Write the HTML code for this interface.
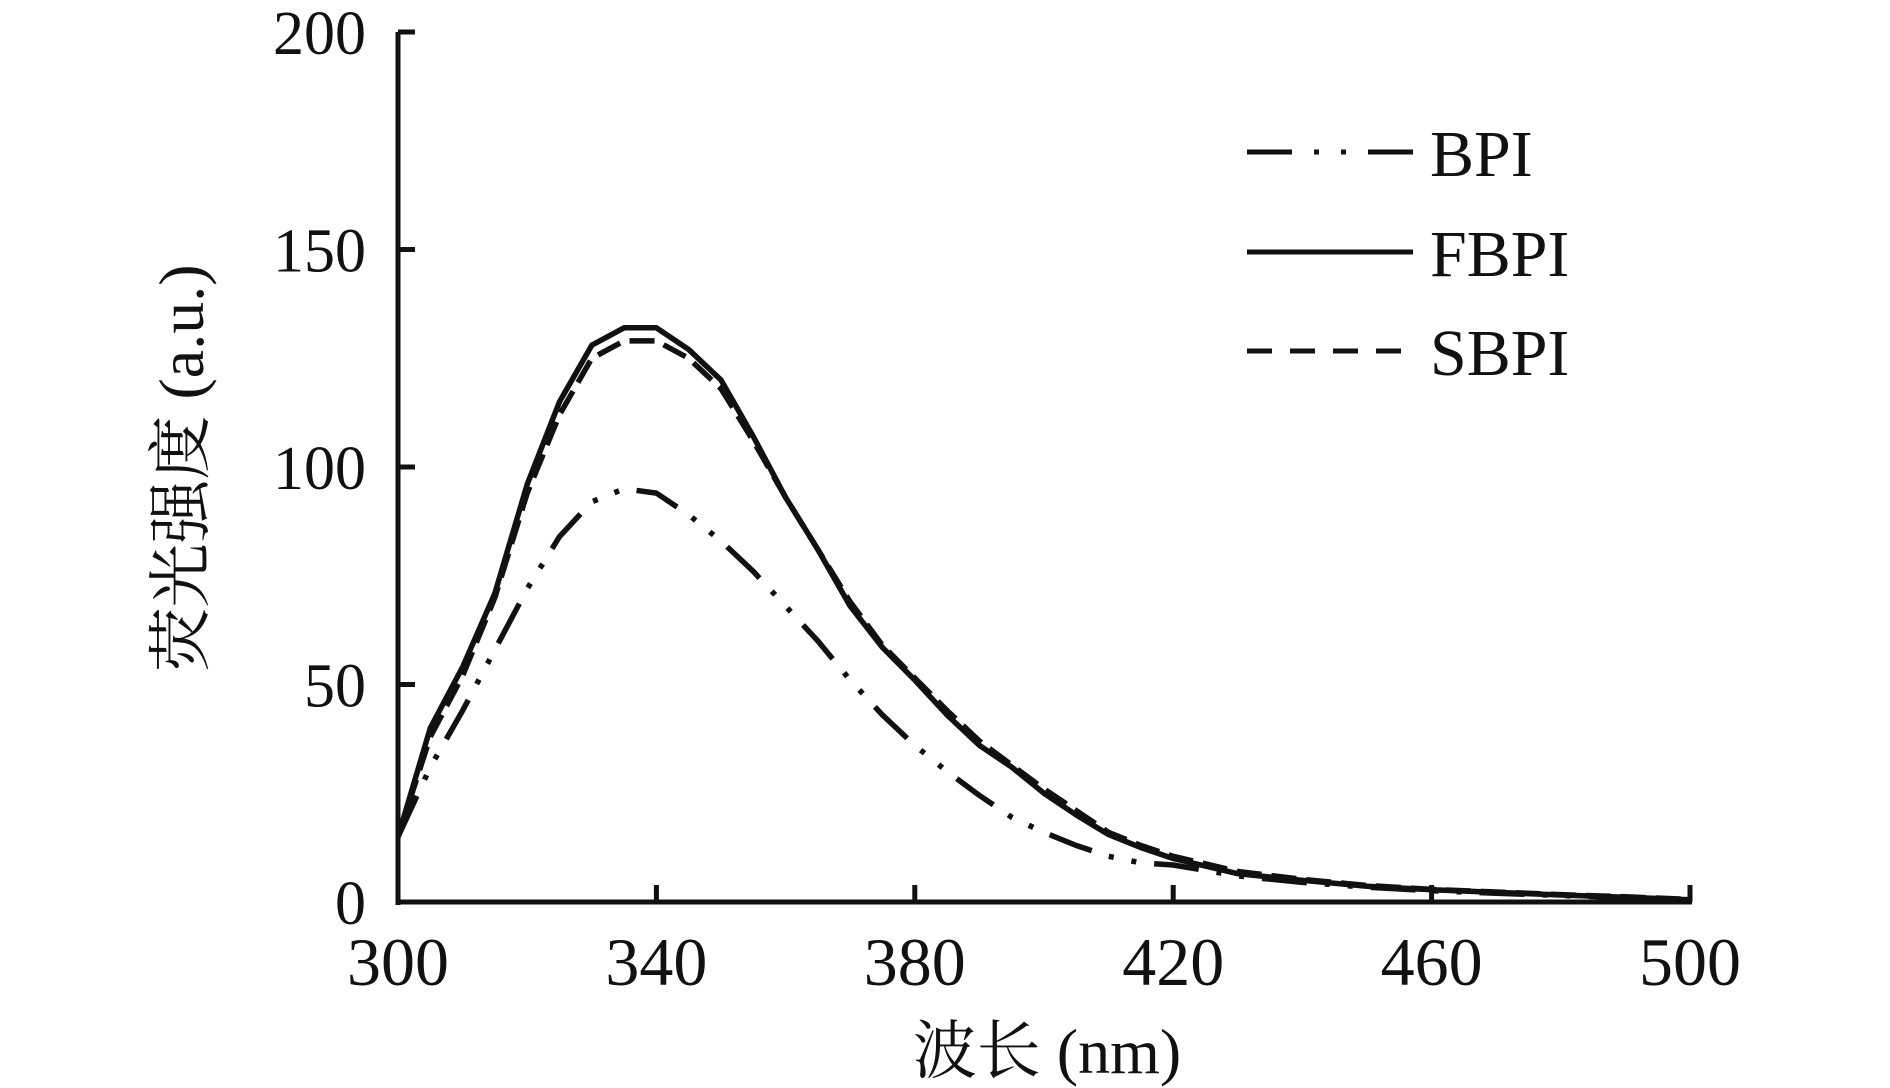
<!DOCTYPE html>
<html><head><meta charset="utf-8"><style>
html,body{margin:0;padding:0;background:#fff;}
svg{display:block;}
text{font-family:"Liberation Serif","Noto Serif CJK SC",serif;fill:#111;}
</style></head><body>
<svg id="chart" width="1890" height="1088" viewBox="0 0 1890 1088" xmlns="http://www.w3.org/2000/svg">
<g id="axes"></g>
<g id="series"></g>
<g id="legend"></g>
<text x="1047" y="1073" font-size="64" text-anchor="middle">波长 (nm)</text>
<text transform="translate(203,468) rotate(-90)" font-size="64" text-anchor="middle">荧光强度 (a.u.)</text>
</svg>
<script>
const wavelengths = [300,305,310,315,320,325,330,335,340,345,350,355,360,365,370,375,380,385,390,395,400,405,410,415,420,430,440,450,460,470,480,490,500];
const bpiValues  = [15,31,44,58,72,84,92,95,94,89,83,76,68,60,51,43,36,30,24.5,19.5,16,13,10.5,9,8.5,6,4.5,3.4,2.6,2,1.5,1,0.5];
const fbpiValues = [15,40,54,71,96,115,128,132,132,127,120,107,93,81,68,58.5,51,43,36,31,25,20,15.5,12.5,10,6.5,5,3.6,2.8,2.2,1.6,1.1,0.5];
const sbpiValues = [15,38,52,70,94,112,125,129,129,125,118,106,93,81,69,59,51.5,44,37,31.5,26,21,16,13,10.5,7,5.2,3.8,2.9,2.3,1.7,1.2,0.6];
const xTicks = [300,340,380,420,460,500];
const yTicks = [0,50,100,150,200];

const NS = "http://www.w3.org/2000/svg";
const X0 = 398, X1 = 1690, Y0 = 902, Y1 = 32;
function xs(v){ return X0 + (v-300)/(500-300)*(X1-X0); }
function ys(v){ return Y0 - v/200*(Y0-Y1); }
function mk(tag, attrs, parent){
  const e = document.createElementNS(NS, tag);
  for (const k in attrs) e.setAttribute(k, attrs[k]);
  parent.appendChild(e); return e;
}
const axes = document.getElementById('axes');
let el = mk('line',{x1:X0,y1:Y1,x2:X0,y2:Y0+3,stroke:'#111','stroke-width':5},axes);


el = mk('line',{x1:X0-2,y1:Y0,x2:X1+2,y2:Y0,stroke:'#111','stroke-width':5},axes);


yTicks.forEach(t=>{
  const y = ys(t);
  const tk = mk('line',{x1:X0,y1:y,x2:X0+17,y2:y,stroke:'#111','stroke-width':5},axes);
  
  
  const lb = mk('text',{x:366,y:y+22,'font-size':62,'text-anchor':'end'},axes);
  lb.textContent = t;
  
  
});
xTicks.forEach(t=>{
  const x = xs(t);
  const tk = mk('line',{x1:x,y1:Y0,x2:x,y2:Y0-17,stroke:'#111','stroke-width':5},axes);
  
  
  const lb = mk('text',{x:x,y:985,'font-size':68,'text-anchor':'middle'},axes);
  lb.textContent = t;
  
  
});
const series = document.getElementById('series');
function drawSeries(vals, dash, name){
  const pts = wavelengths.map((w,i)=>xs(w).toFixed(1)+','+ys(vals[i]).toFixed(1)).join(' ');
  const a = {points:pts,fill:'none',stroke:'#111','stroke-width':5.5,'stroke-linejoin':'round'};
  if (dash) a['stroke-dasharray'] = dash;
  const p = mk('polyline',a,series);
  
  
}
drawSeries(fbpiValues, null, 'fbpi-line');
drawSeries(sbpiValues, '25 10', 'sbpi-line');
drawSeries(bpiValues, '45 18 5 18 5 18', 'bpi-line');

const legend = document.getElementById('legend');
const items = [['BPI','45 22 5 22 5 22',152],['FBPI',null,252],['SBPI','25 18',351]];
items.forEach(it=>{
  const a = {x1:1247,y1:it[2],x2:1413,y2:it[2],stroke:'#111','stroke-width':5};
  if (it[1]) a['stroke-dasharray'] = it[1];
  const l = mk('line',a,legend);
  
  
  const t = mk('text',{x:1430,y:it[2]+24,'font-size':66},legend);
  t.textContent = it[0];
  
  
});
</script>
</body></html>
